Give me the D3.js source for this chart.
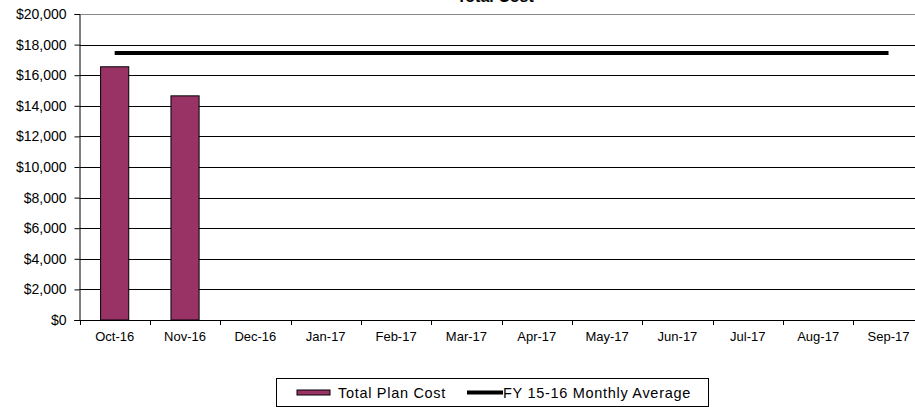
<!DOCTYPE html>
<html>
<head>
<meta charset="utf-8">
<script src="https://cdn.jsdelivr.net/npm/d3@7"></script>
<style>
  html, body { margin: 0; padding: 0; background: #fff; overflow: hidden; }
  svg { display: block; font-family: "Liberation Sans", Arial, sans-serif; }
</style>
</head>
<body>
<svg id="chart" width="915" height="407"></svg>
<script>
const months = ["Oct-16","Nov-16","Dec-16","Jan-17","Feb-17","Mar-17","Apr-17","May-17","Jun-17","Jul-17","Aug-17","Sep-17"];
const planCost = [16550, 14650, null, null, null, null, null, null, null, null, null, null];
const monthlyAverage = [17450, 17450, 17450, 17450, 17450, 17450, 17450, 17450, 17450, 17450, 17450, 17450];
const yTicks = [0, 2000, 4000, 6000, 8000, 10000, 12000, 14000, 16000, 18000, 20000];
const chartTitle = "Total Cost";
const seriesNames = ["Total Plan Cost", "FY 15-16 Monthly Average"];

const svg = d3.select("#chart");
const pLeft = 79.5, pRight = 923.7, pTop = 14, pBottom = 320;

const x = d3.scaleBand().domain(months).range([pLeft, pRight]).padding(0);
const y = d3.scaleLinear().domain([0, 20000]).range([pBottom, pTop]);

// title (mostly clipped at top, as in the reference)
svg.append("text").attr("x", (pLeft + 911) / 2).attr("y", 1.5)
  .attr("text-anchor", "middle").attr("font-size", 16).attr("font-weight", "bold")
  .attr("fill", "#000").text(chartTitle);

// gridlines
svg.append("g").selectAll("line").data(yTicks.filter(d => d > 0)).join("line")
  .attr("x1", pLeft).attr("x2", pRight)
  .attr("y1", d => Math.round(y(d)) + 0.5).attr("y2", d => Math.round(y(d)) + 0.5)
  .attr("stroke", d => d === 20000 ? "#888" : "#000").attr("stroke-width", 1);

// bars
const bw = x.bandwidth() * 0.4;
svg.append("g").selectAll("rect").data(months.map((m, i) => ({m, v: planCost[i]})).filter(d => d.v != null)).join("rect")
  .attr("x", d => x(d.m) + (x.bandwidth() - bw) / 2)
  .attr("y", d => y(d.v))
  .attr("width", bw)
  .attr("height", d => y(0) - y(d.v))
  .attr("fill", "#993366").attr("stroke", "#000").attr("stroke-width", 1);

// average line
const line = d3.line().x((d, i) => x(months[i]) + x.bandwidth() / 2).y(d => y(d));
svg.append("path").datum(monthlyAverage).attr("d", line)
  .attr("fill", "none").attr("stroke", "#000").attr("stroke-width", 4);

// y axis
const yAxis = svg.append("g").attr("transform", `translate(${pLeft},0)`)
  .call(d3.axisLeft(y).tickValues(yTicks).tickSize(5).tickPadding(8).tickFormat(d3.format("$,")));
yAxis.select(".domain").attr("stroke", "#000");
yAxis.selectAll("text").attr("font-size", 14).attr("fill", "#000").attr("font-family", "Liberation Sans, Arial, sans-serif");

// x axis line
svg.append("line").attr("x1", pLeft - 5).attr("x2", pRight).attr("y1", pBottom + 0.5).attr("y2", pBottom + 0.5).attr("stroke", "#000");
// x boundary ticks
const bounds = months.map(m => x(m)).concat([pRight]);
svg.append("g").selectAll("line").data(bounds).join("line")
  .attr("x1", d => Math.round(d) + 0.5).attr("x2", d => Math.round(d) + 0.5)
  .attr("y1", pBottom).attr("y2", pBottom + 5).attr("stroke", "#000");
// x labels
svg.append("g").selectAll("text").data(months).join("text")
  .attr("x", d => x(d) + x.bandwidth() / 2).attr("y", 341)
  .attr("text-anchor", "middle").attr("font-size", 13).attr("fill", "#000").text(d => d);

// legend
const lg = svg.append("g");
lg.append("rect").attr("x", 276.5).attr("y", 378.5).attr("width", 432).attr("height", 28)
  .attr("fill", "#fff").attr("stroke", "#000").attr("stroke-width", 1);
lg.append("rect").attr("x", 297).attr("y", 390).attr("width", 33).attr("height", 5)
  .attr("fill", "#993366").attr("stroke", "#000").attr("stroke-width", 1);
lg.append("text").attr("x", 338).attr("y", 398).attr("font-size", 14.5).attr("letter-spacing", 0.7)
  .attr("fill", "#000").text(seriesNames[0]);
lg.append("line").attr("x1", 467).attr("x2", 503).attr("y1", 392.5).attr("y2", 392.5)
  .attr("stroke", "#000").attr("stroke-width", 4);
lg.append("text").attr("x", 503).attr("y", 398).attr("font-size", 14.5).attr("letter-spacing", 0.7)
  .attr("fill", "#000").text(seriesNames[1]);
</script>
</body>
</html>
